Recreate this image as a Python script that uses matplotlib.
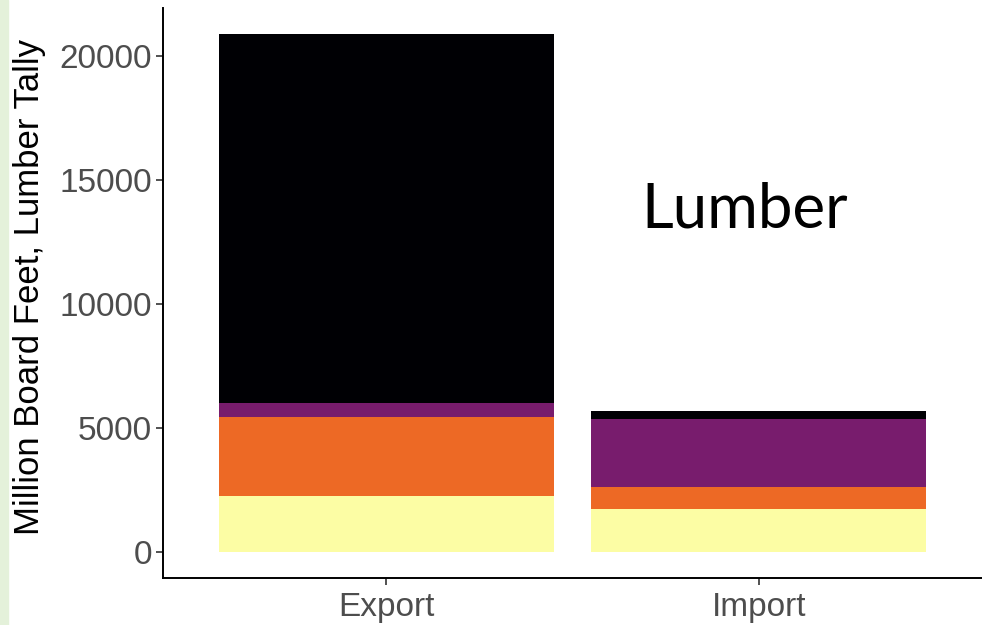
import matplotlib.pyplot as plt
import numpy as np
from matplotlib.patches import Rectangle

# values (million board feet), stacked bottom -> top
categories = ["Export", "Import"]
layer_1 = [2260, 1730]    # yellow
layer_2 = [3180, 890]     # orange
layer_3 = [570, 2740]     # purple
layer_4 = [14880, 320]    # black
layer_colors = ["#FCFDA4", "#ED6925", "#781C6D", "#000004"]
yticks = [0, 5000, 10000, 15000, 20000]

plt.rcParams["font.family"] = ["Liberation Sans", "DejaVu Sans"]

fig = plt.figure(figsize=(9.82, 6.25), dpi=100)
fig.patches.append(Rectangle((0, 0), 8 / 982, 1, transform=fig.transFigure,
                             color="#e4f1da", zorder=0))
ax = fig.add_axes([163 / 982, 1 - 578 / 625, 1 - 163 / 982, 570 / 625])

x = np.arange(len(categories))
bottom = np.zeros(len(categories))
for vals, col in zip([layer_1, layer_2, layer_3, layer_4], layer_colors):
    ax.bar(x, vals, width=0.9, bottom=bottom, color=col, linewidth=0)
    bottom += np.array(vals)

top = bottom.max()
ax.set_xlim(-0.6, len(categories) - 0.4)
ax.set_ylim(-0.05 * top, top * 1.05)
ax.set_xticks(x, categories)
ax.set_yticks(yticks)

for side in ["top", "right"]:
    ax.spines[side].set_visible(False)
for side in ["left", "bottom"]:
    ax.spines[side].set_linewidth(1.4)
    ax.spines[side].set_color("black")
ax.tick_params(axis="both", length=5, width=1.2, color="#333333",
               labelsize=24, labelcolor="#4D4D4D", pad=3)
ax.tick_params(axis="x", pad=5)
ax.set_ylabel("Million Board Feet, Lumber Tally", fontsize=25, color="black")
ax.yaxis.set_label_coords(-0.143, 0.51)

fig.text(745 / 982, 1 - 210 / 625, "Lumber", fontsize=44.5,
         family=["Lato", "DejaVu Sans"], ha="center", va="center")

fig.savefig("out.png", dpi=100)
